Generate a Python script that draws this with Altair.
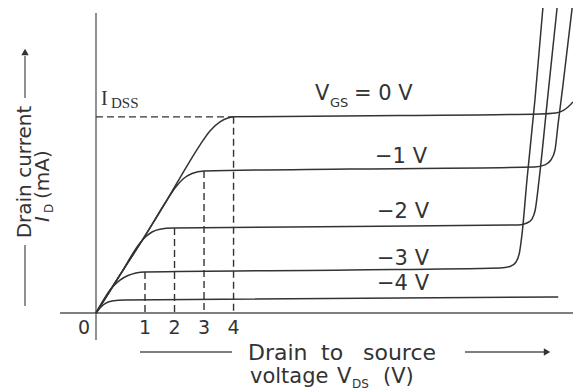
import altair as alt
import pandas as pd

# JFET drain characteristics: one output curve per gate-source voltage
vgs_names = ["0 V", "-1 V", "-2 V", "-3 V", "-4 V"]

# Drain-source voltage (V) and drain current (mA) along each curve
vds_0 = [0, 0.49, 1.0, 1.745, 2.42, 2.86, 3.20, 3.54, 3.81, 4.08, 9.64, 14.38, 14.92, 15.16, 15.33, 15.5]
id_0 = [0, 1.94, 3.93, 5.76, 7.49, 8.56, 9.28, 9.74, 9.94, 10.0, 10.07, 10.15, 10.2, 10.32, 10.5, 10.76]

vds_m1 = [0, 0.49, 1.0, 1.745, 2.016, 2.287, 2.592, 3.0, 7.945, 14.21, 14.55, 14.75, 14.89, 14.99, 15.16, 15.47]
id_m1 = [0, 1.94, 3.93, 5.76, 6.37, 6.83, 7.11, 7.24, 7.34, 7.44, 7.55, 7.80, 8.31, 9.58, 11.62, 15.55]

vds_m2 = [0, 0.49, 0.898, 1.034, 1.237, 1.508, 1.949, 7.945, 13.64, 13.94, 14.11, 14.22, 14.35, 14.65, 14.96]
id_m2 = [0, 1.94, 3.57, 3.90, 4.13, 4.27, 4.33, 4.41, 4.49, 4.59, 4.79, 5.25, 6.78, 11.11, 15.55]

vds_m3 = [0, 0.327, 0.49, 0.653, 0.816, 1.0, 7.945, 13.03, 13.37, 13.57, 13.69, 13.77, 13.94, 14.21, 14.48]
id_m3 = [0, 1.30, 1.68, 1.91, 2.04, 2.09, 2.19, 2.29, 2.37, 2.60, 3.11, 3.98, 6.78, 10.86, 15.55]

vds_m4 = [0, 0.082, 0.184, 0.327, 0.592, 15.0]
id_m4 = [0, 0.255, 0.48, 0.61, 0.66, 0.82]

# Pinch-off voltages and the current at which each curve levels off
pinch_vds = [1, 2, 3, 4]
pinch_id = [2.09, 4.33, 7.24, 10.0]
idss = 10.0

tick_values = [0, 1, 2, 3, 4]
curve_labels = ["\u22121 V", "\u22122 V", "\u22123 V", "\u22124 V"]

INK = "#333333"
AXIS = "#555555"
SANS = "DejaVu Sans"
SERIF = "Liberation Serif"

rows = []
for name, vs, ids in zip(vgs_names,
                         [vds_0, vds_m1, vds_m2, vds_m3, vds_m4],
                         [id_0, id_m1, id_m2, id_m3, id_m4]):
    for k, (v, i) in enumerate(zip(vs, ids)):
        rows.append({"vgs": name, "vds": v, "id": i, "k": k})
curve_df = pd.DataFrame(rows)

# The V_DS axis is drawn stretched near the origin (schematic spacing)
xs = alt.Scale(domain=[0, 1, 15.5], range=[96, 145, 573], zero=False, nice=False)
ys = alt.Scale(domain=[0, 15.6], range=[313, 7], zero=False, nice=False)


def X(field):
    return alt.X(field, scale=xs, axis=None)


def Y(field):
    return alt.Y(field, scale=ys, axis=None)


one = pd.DataFrame({"t": [""]})


def label(text, x, y, size, font=SANS, align="left", angle=0, baseline="alphabetic", italic=False):
    kw = dict(font=font, fontSize=size, color=INK, align=align, baseline=baseline)
    if angle:
        kw["angle"] = angle
    if italic:
        kw["fontStyle"] = "italic"
    return alt.Chart(pd.DataFrame({"t": [text]})).mark_text(**kw).encode(
        x=alt.value(x), y=alt.value(y), text="t:N"
    )


def seg(x1, y1, x2, y2, color=AXIS, width=1.3):
    return alt.Chart(one).mark_rule(color=color, strokeWidth=width).encode(
        x=alt.value(x1), y=alt.value(y1), x2=alt.value(x2), y2=alt.value(y2)
    )


def head(x, y, shape):
    return alt.Chart(one).mark_point(shape=shape, filled=True, size=55, color=INK, opacity=1).encode(
        x=alt.value(x), y=alt.value(y)
    )


curves = alt.Chart(curve_df).mark_line(color=INK, strokeWidth=1.5, interpolate="monotone").encode(
    x=X("vds:Q"), y=Y("id:Q"), detail="vgs:N", order="k:Q"
)

pinch = alt.Chart(pd.DataFrame({"vds": pinch_vds, "id": pinch_id})).mark_rule(
    color=INK, strokeWidth=1.4, strokeDash=[7, 4]
).encode(x=X("vds:Q"), y=Y("id:Q"), y2=alt.datum(0))

idss_line = alt.Chart(pd.DataFrame({"id": [idss], "v0": [0], "v1": [pinch_vds[-1]]})).mark_rule(
    color=INK, strokeWidth=1.4, strokeDash=[7, 4]
).encode(x=X("v0:Q"), x2="v1:Q", y=Y("id:Q"))

x_axis = alt.Chart(pd.DataFrame({"id": [0]})).mark_rule(color=AXIS, strokeWidth=1.3).encode(
    y=Y("id:Q"), x=alt.value(60), x2=alt.value(573)
)
y_axis = alt.Chart(pd.DataFrame({"vds": [0]})).mark_rule(color=AXIS, strokeWidth=1.3).encode(
    x=X("vds:Q"), y=alt.value(13), y2=alt.value(340)
)

ticks = alt.Chart(pd.DataFrame({"v": tick_values[1:]})).mark_text(
    font=SANS, fontSize=19, color=INK, align="center", baseline="alphabetic"
).encode(x=X("v:Q"), y=alt.value(334), text="v:Q")
tick0 = alt.Chart(pd.DataFrame({"v": tick_values[:1]})).mark_text(
    font=SANS, fontSize=19, color=INK, align="right", baseline="alphabetic", dx=-6
).encode(x=X("v:Q"), y=alt.value(334), text="v:Q")

labels = [
    # I_DSS
    label("I", 101, 105, 20, font=SERIF),
    label("DSS", 111, 108, 15, font=SERIF),
    # V_GS = 0 V
    label("V", 315, 100, 21),
    label("GS", 330, 107, 13),
    label("=  0  V", 354, 100, 21),
    label(curve_labels[0], 375, 163, 21),
    label(curve_labels[1], 377, 218, 21),
    label(curve_labels[2], 377, 265, 21),
    label(curve_labels[3], 377, 290, 21),
    # x title
    label("Drain", 248, 360, 22),
    label("to", 321, 360, 22),
    label("source", 363, 360, 22),
    label("voltage", 250, 383, 21),
    label("V", 337, 383, 21),
    label("DS", 352, 388, 12),
    label("(V)", 383, 383, 21),
    # y title
    label("Drain current", 25, 172, 20, align="center", angle=270, baseline="middle"),
    label("I", 43, 222, 20, align="left", angle=270, baseline="middle", italic=True),
    label("D", 49, 213, 12, align="left", angle=270, baseline="middle"),
    label("(mA)", 43, 199, 20, align="left", angle=270, baseline="middle"),
]

arrows = [
    seg(25, 56, 25, 98),
    head(25, 52, "triangle-up"),
    seg(25, 245, 25, 306),
    seg(140, 352, 232, 352),
    seg(465, 352, 544, 352),
    head(547, 352, "triangle-right"),
]

chart = alt.layer(
    x_axis, y_axis, idss_line, pinch, curves, ticks, tick0, *labels, *arrows
).properties(
    width=573, height=392, autosize=alt.AutoSizeParams(type="none"), padding=0, background="white"
).configure_view(strokeWidth=0)

chart.save("out.html", embed_options={"renderer": "svg", "actions": False})
